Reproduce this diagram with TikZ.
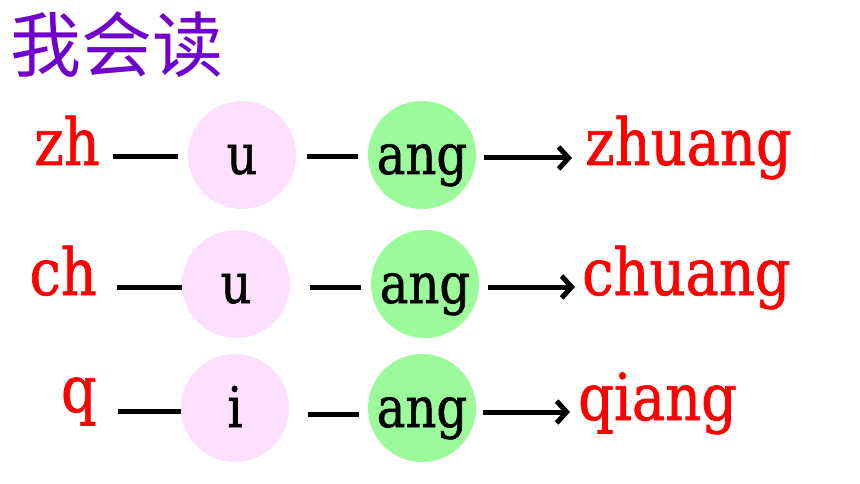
\documentclass[tikz,border=0pt]{standalone}
\usepackage{fontspec}
\setmainfont{DejaVu Serif}
\newfontfamily\pyfont[FakeStretch=0.86, FakeBold=1]{DejaVu Serif}
\newfontfamily\cjk{Noto Sans CJK SC}
\usepackage{tikz}
\usetikzlibrary{arrows.meta, calc}

\definecolor{titlepurple}{RGB}{112,0,204}
\definecolor{jiepink}{RGB}{253,224,253}
\definecolor{yungreen}{RGB}{155,251,155}

\tikzset{
  shengmu/.style={text=red, inner sep=0pt, font=\pyfont\fontsize{65}{70}\selectfont},
  pinyin/.style={text=red, inner sep=0pt, font=\pyfont\fontsize{65}{70}\selectfont},
  jiemu/.style={circle, fill=jiepink, minimum size=108pt, inner sep=0pt,
                font=\pyfont\fontsize{56}{56}\selectfont, text height=38pt, text depth=0pt},
  yunmu/.style={jiemu, fill=yungreen},
  joinline/.style={line width=5pt},
  readarrow/.style={line width=5pt, -{Straight Barb[length=10pt, width=22pt]}}
}

\begin{document}
\begin{tikzpicture}[x=1pt, y=-1pt]
\useasboundingbox (0,0) rectangle (860,484);

%% Title
\node[anchor=north west, inner sep=0pt, text=titlepurple,
      font=\cjk\fontsize{71}{71}\selectfont] (title) at (10,12) {我会读};

%% ***Row 1 : zh - u - ang***
\node[shengmu, anchor=base east] (zh) at (100,165) {zh};
\node[jiemu] (u1) at (242,155) {u};
\node[yunmu] (ang1) at (422,155) {ang};
\node[pinyin, anchor=base west] (zhuang) at (585,165) {zhuang};
\draw[joinline, shorten <=13pt, shorten >=10pt] ($(zh.east |- u1.west)+(0,2)$) -- ($(u1.west)+(0,2)$);
\draw[joinline, shorten <=11pt, shorten >=10pt] ($(u1.east)+(0,2)$) -- ($(ang1.west)+(0,2)$);
\draw[readarrow, shorten <=8pt, shorten >=13pt] ($(ang1.east)+(0,3)$) -- ($(ang1.east -| zhuang.west)+(0,3)$);

%% ***Row 2 : ch - u - ang***
\node[shengmu, anchor=base east] (ch) at (97,295) {ch};
\node[jiemu] (u2) at (236,284) {u};
\node[yunmu] (ang2) at (425,284) {ang};
\node[pinyin, anchor=base west] (chuang) at (582,295) {chuang};
\draw[joinline, shorten <=20pt, shorten >=0pt] ($(ch.east |- u2.west)+(0,3)$) -- ($(u2.west)+(0,3)$);
\draw[joinline, shorten <=20pt, shorten >=10pt] ($(u2.east)+(0,3)$) -- ($(ang2.west)+(0,3)$);
\draw[readarrow, shorten <=9pt, shorten >=7pt] ($(ang2.east)+(0,3)$) -- ($(ang2.east -| chuang.west)+(0,3)$);

%% ***Row 3 : q - i - ang***
\node[shengmu, anchor=base east] (q) at (97,412) {q};
\node[jiemu] (i3) at (235,408) {i};
\node[yunmu] (ang3) at (422,408) {ang};
\node[pinyin, anchor=base west] (qiang) at (578,420) {qiang};
\draw[joinline, shorten <=21pt, shorten >=0pt] ($(q.east |- i3.west)+(0,3)$) -- ($(i3.west)+(0,3)$);
\draw[joinline, shorten <=19pt, shorten >=9pt] ($(i3.east)+(0,6)$) -- ($(ang3.west)+(0,6)$);
\draw[readarrow, shorten <=7pt, shorten >=8pt] ($(ang3.east)+(0,4)$) -- ($(ang3.east -| qiang.west)+(0,4)$);

\end{tikzpicture}
\end{document}
